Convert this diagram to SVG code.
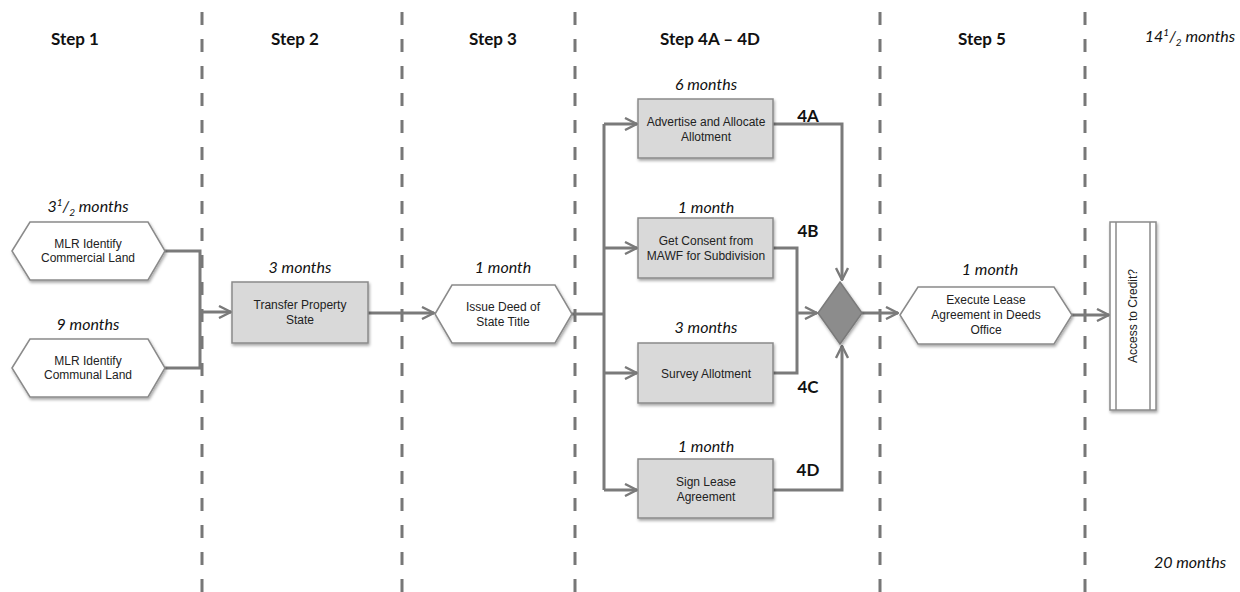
<svg xmlns="http://www.w3.org/2000/svg" width="1240" height="592" viewBox="0 0 1240 592">
<defs>
<marker id="ah" viewBox="0 0 14 14" refX="13" refY="7" markerWidth="14" markerHeight="14" markerUnits="userSpaceOnUse" orient="auto">
<path d="M1,1 L13,7 L1,13" fill="none" stroke="#7a7a7a" stroke-width="2.4"/>
</marker>
<filter id="sh" x="-10%" y="-10%" width="130%" height="140%">
<feDropShadow dx="1" dy="2" stdDeviation="1.5" flood-color="#000" flood-opacity="0.35"/>
</filter>
</defs>
<style>
.div{stroke:#777;stroke-width:3;stroke-dasharray:13 14;fill:none}
.hdr{font-family:Lato,"Open Sans",sans-serif;font-weight:bold;font-size:17px;fill:#111;text-anchor:middle}
.dur{font-family:Lato,"Open Sans",sans-serif;font-style:italic;font-size:16px;fill:#111;text-anchor:middle}
.tag{font-family:Lato,"Open Sans",sans-serif;font-weight:bold;font-size:17px;fill:#111;text-anchor:middle}
.lbl{font-family:"Liberation Sans",Arial,sans-serif;font-size:12px;fill:#222;text-anchor:middle}
.box{fill:#d9d9d9;stroke:#8a8a8a;stroke-width:1.5;filter:url(#sh)}
.hex{fill:#fff;stroke:#8a8a8a;stroke-width:1.5;filter:url(#sh)}
.c{stroke:#7a7a7a;stroke-width:3;fill:none}
.ca{stroke:#7a7a7a;stroke-width:3;fill:none;marker-end:url(#ah)}
</style>
<rect width="1240" height="592" fill="#fff"/>
<g id="dividers">
<line class="div" x1="202" y1="12" x2="202" y2="592"/>
<line class="div" x1="402" y1="12" x2="402" y2="592"/>
<line class="div" x1="575" y1="12" x2="575" y2="592"/>
<line class="div" x1="880" y1="12" x2="880" y2="592"/>
<line class="div" x1="1085" y1="12" x2="1085" y2="592"/>
</g>
<g id="headers">
<text class="hdr" x="75" y="45">Step 1</text>
<text class="hdr" x="295" y="45">Step 2</text>
<text class="hdr" x="493" y="45">Step 3</text>
<text class="hdr" x="710" y="45">Step 4A – 4D</text>
<text class="hdr" x="982" y="45">Step 5</text>
<text class="dur" x="1190" y="42">14<tspan font-size="10" dy="-6">1</tspan><tspan dy="6">/</tspan><tspan font-size="10" dy="4">2</tspan><tspan dy="-4"> months</tspan></text>
<text class="dur" x="1190" y="568">20 months</text>
</g>
<g id="connectors">
<polyline class="c" points="165,251 200,251 200,368 165,368"/>
<line class="ca" x1="200" y1="312" x2="231" y2="312" stroke-width="5"/>
<line class="ca" x1="368" y1="313" x2="434" y2="313"/>
<polyline class="c" points="572,314 604,314" stroke-width="4"/>
<line class="c" x1="604" y1="124" x2="604" y2="490"/>
<line class="ca" x1="604" y1="124" x2="637" y2="124"/>
<line class="ca" x1="604" y1="248" x2="637" y2="248"/>
<line class="ca" x1="604" y1="373" x2="637" y2="373"/>
<line class="ca" x1="604" y1="490" x2="637" y2="490"/>
<polyline class="ca" points="773,124 842,124 842,280"/>
<polyline class="c" points="773,248 797,248 797,373 773,373"/>
<line class="ca" x1="797" y1="313" x2="817" y2="313" stroke-width="4"/>
<polyline class="ca" points="773,490 842,490 842,346"/>
<line class="ca" x1="862" y1="313" x2="898" y2="313"/>
<line class="ca" x1="1072" y1="315" x2="1109" y2="315"/>
</g>
<g id="n-commercial">
<polygon class="hex" points="12,251 30,222 148,222 165,251 148,280 30,280"/>
<text class="dur" x="88" y="212">3<tspan font-size="10" dy="-6">1</tspan><tspan dy="6">/</tspan><tspan font-size="10" dy="4">2</tspan><tspan dy="-4"> months</tspan></text>
<text class="lbl" x="88" y="248" font-size="11.5">MLR Identify</text>
<text class="lbl" x="88" y="262" font-size="11.5">Commercial Land</text>
</g>
<g id="n-communal">
<polygon class="hex" points="12,368 30,339 148,339 165,368 148,397 30,397"/>
<text class="dur" x="88" y="330">9 months</text>
<text class="lbl" x="88" y="365" font-size="11.5">MLR Identify</text>
<text class="lbl" x="88" y="379" font-size="11.5">Communal Land</text>
</g>
<g id="n-transfer">
<rect class="box" x="232" y="282" width="136" height="61"/>
<text class="dur" x="300" y="273">3 months</text>
<text class="lbl" x="300" y="309">Transfer Property</text>
<text class="lbl" x="300" y="324">State</text>
</g>
<g id="n-deed">
<polygon class="hex" points="435,314 452,285 555,285 572,314 555,343 452,343"/>
<text class="dur" x="503" y="273">1 month</text>
<text class="lbl" x="503" y="311">Issue Deed of</text>
<text class="lbl" x="503" y="326">State Title</text>
</g>
<g id="n-4a">
<rect class="box" x="638" y="99" width="135" height="59"/>
<text class="dur" x="706" y="90">6 months</text>
<text class="lbl" x="706" y="126">Advertise and Allocate</text>
<text class="lbl" x="706" y="141">Allotment</text>
<text class="tag" x="808" y="122">4A</text>
</g>
<g id="n-4b">
<rect class="box" x="638" y="218" width="135" height="60"/>
<text class="dur" x="706" y="213">1 month</text>
<text class="lbl" x="706" y="245">Get Consent from</text>
<text class="lbl" x="706" y="260">MAWF for Subdivision</text>
<text class="tag" x="808" y="237">4B</text>
</g>
<g id="n-4c">
<rect class="box" x="638" y="343" width="135" height="60"/>
<text class="dur" x="706" y="333">3 months</text>
<text class="lbl" x="706" y="378">Survey Allotment</text>
<text class="tag" x="808" y="393">4C</text>
</g>
<g id="n-4d">
<rect class="box" x="638" y="459" width="135" height="59"/>
<text class="dur" x="706" y="452">1 month</text>
<text class="lbl" x="706" y="486">Sign Lease</text>
<text class="lbl" x="706" y="501">Agreement</text>
<text class="tag" x="808" y="476">4D</text>
</g>
<g id="n-merge">
<polygon points="840,282 862,313 840,344 818,313" fill="#8c8c8c" stroke="#7a7a7a" stroke-width="1.5" filter="url(#sh)"/>
</g>
<g id="n-execute">
<polygon class="hex" points="900,315 918,287 1054,287 1072,315 1054,344 918,344"/>
<text class="dur" x="990" y="275">1 month</text>
<text class="lbl" x="986" y="304">Execute Lease</text>
<text class="lbl" x="986" y="319">Agreement in Deeds</text>
<text class="lbl" x="986" y="334">Office</text>
</g>
<g id="n-credit">
<rect x="1110" y="222" width="46" height="188" fill="#fff" stroke="#8a8a8a" stroke-width="1.5" filter="url(#sh)"/>
<line x1="1116" y1="222" x2="1116" y2="410" stroke="#8a8a8a" stroke-width="1.5"/>
<line x1="1150" y1="222" x2="1150" y2="410" stroke="#8a8a8a" stroke-width="1.5"/>
<text class="lbl" transform="translate(1137,316) rotate(-90)">Access to Credit?</text>
</g>
</svg>
